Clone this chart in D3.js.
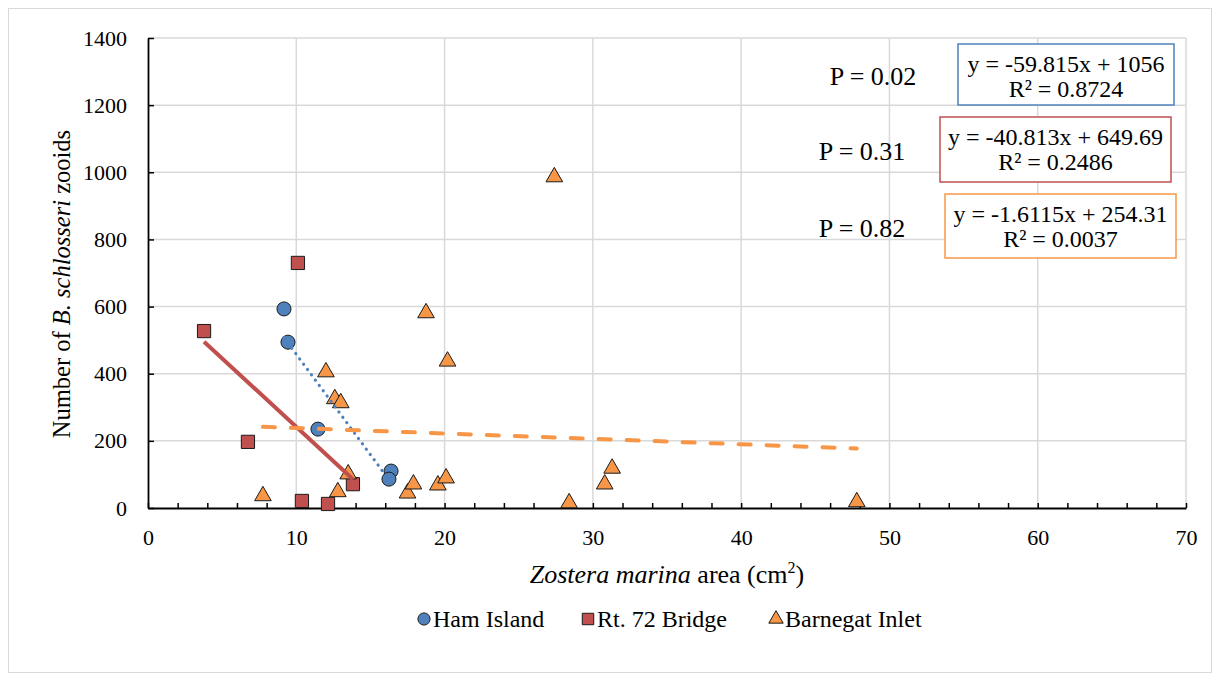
<!DOCTYPE html>
<html>
<head>
<meta charset="utf-8">
<script src="https://cdn.jsdelivr.net/npm/d3@7"></script>
<style>
  body { margin: 0; background: #fff; }
  svg, svg text { font-family: "Liberation Serif", "Times New Roman", serif; }
</style>
</head>
<body>
<svg id="chart" width="1220" height="675"></svg>
<script>
// series values
const hamX = [9.17, 9.44, 11.46, 16.39, 16.25];
const hamY = [593, 494, 235, 110, 86];

const bridgeX = [3.78, 10.11, 6.74, 10.38, 12.14, 13.82];
const bridgeY = [527, 730, 197, 21, 12, 71];

const inletX = [7.75, 12.0, 12.6, 13.0, 13.5, 12.8, 18.75, 20.2, 17.5, 17.9, 19.55, 20.1, 28.4, 30.8, 31.3, 27.4, 47.8];
const inletY = [36, 405, 325, 313, 101, 48, 581, 437, 44, 71, 68, 89, 15, 71, 118, 986, 18];

const seriesNames = ["Ham Island", "Rt. 72 Bridge", "Barnegat Inlet"];
const fitSlope = [-59.815, -40.813, -1.6115];
const fitIntercept = [1056, 649.69, 254.31];
const fitEquation = ["y = -59.815x + 1056", "y = -40.813x + 649.69", "y = -1.6115x + 254.31"];
const fitR2 = ["R² = 0.8724", "R² = 0.2486", "R² = 0.0037"];
const pValues = ["P = 0.02", "P = 0.31", "P = 0.82"];

const xTicks = d3.range(0, 71, 10);
const xMinorTicks = d3.range(0, 71, 2);
const yTicks = d3.range(0, 1401, 200);

const colors = ["#4F81BD", "#C0504D", "#F79646"];
const symbols = [d3.symbolCircle, d3.symbolSquare, d3.symbolTriangle];
const symbolSizes = [155, 175, 120];

const svg = d3.select("#chart");

// outer chart border
svg.append("rect")
    .attr("x", 8.5).attr("y", 8.5)
    .attr("width", 1203).attr("height", 664)
    .attr("fill", "none")
    .attr("stroke", "#d9d9d9")
    .attr("stroke-width", 1);

const x = d3.scaleLinear().domain([0, 70]).range([148, 1186]);
const y = d3.scaleLinear().domain([0, 1400]).range([508, 38]);

// gridlines
svg.append("g").selectAll("line")
    .data(xTicks.filter(d => d > 0))
    .join("line")
    .attr("x1", d => x(d)).attr("x2", d => x(d))
    .attr("y1", y(0)).attr("y2", y(1400))
    .attr("stroke", "#d9d9d9").attr("stroke-width", 1.5);

svg.append("g").selectAll("line")
    .data(yTicks.filter(d => d > 0))
    .join("line")
    .attr("x1", x(0)).attr("x2", x(70))
    .attr("y1", d => y(d)).attr("y2", d => y(d))
    .attr("stroke", "#d9d9d9").attr("stroke-width", 1.5);

// axes
const xAxis = d3.axisBottom(x)
    .tickValues(xMinorTicks)
    .tickFormat(d => d % 10 === 0 ? d : "")
    .tickSizeInner(-5)
    .tickSizeOuter(0)
    .tickPadding(21);

const yAxis = d3.axisLeft(y)
    .tickValues(yTicks)
    .tickFormat(d3.format("d"))
    .tickSizeInner(-6)
    .tickSizeOuter(0)
    .tickPadding(21);

const ax = svg.append("g")
    .attr("transform", `translate(0,${y(0)})`)
    .call(xAxis);

const ay = svg.append("g")
    .attr("transform", `translate(${x(0)},0)`)
    .call(yAxis);

[ax, ay].forEach(function(g){
    g.attr("font-family", null).attr("font-size", null);
    g.selectAll(".domain").attr("stroke", "#000").attr("stroke-width", 1.8);
    g.selectAll(".tick line").attr("stroke", "#000").attr("stroke-width", 1.5);
    g.selectAll(".tick text")
        .attr("font-size", 22)
        .attr("fill", "#000");
});

// axis titles
const xt = svg.append("text")
    .attr("x", 667).attr("y", 583)
    .attr("text-anchor", "middle")
    .attr("font-size", 26);
xt.append("tspan").attr("font-style", "italic").text("Zostera marina");
xt.append("tspan").text(" area (cm");
xt.append("tspan").attr("font-size", 16).attr("dy", -10).text("2");
xt.append("tspan").attr("dy", 10).text(")");

const yt = svg.append("text")
    .attr("transform", `translate(70,284) rotate(-90)`)
    .attr("text-anchor", "middle")
    .attr("font-size", 24.5);
yt.append("tspan").text("Number of ");
yt.append("tspan").attr("font-style", "italic").text("B. schlosseri");
yt.append("tspan").text(" zooids");

// points
const allSeries = [
    d3.zip(hamX, hamY),
    d3.zip(bridgeX, bridgeY),
    d3.zip(inletX, inletY)
];

const lineGen = d3.line().x(d => x(d[0])).y(d => y(d[1]));

allSeries.forEach(function(pts, i){
    svg.append("g").selectAll("path")
        .data(pts)
        .join("path")
        .attr("d", d3.symbol().type(symbols[i]).size(symbolSizes[i]))
        .attr("transform", d => `translate(${x(d[0])},${y(d[1])})`)
        .attr("fill", colors[i])
        .attr("stroke", "#1a1a1a")
        .attr("stroke-width", 1);
});

// trendlines
allSeries.forEach(function(pts, i){
    const ext = d3.extent(pts, d => d[0]);
    const seg = ext.map(v => [v, fitSlope[i] * v + fitIntercept[i]]);
    const p = svg.append("path")
        .attr("d", lineGen(seg))
        .attr("fill", "none")
        .attr("stroke", colors[i]);
    if (i === 0){
        p.attr("stroke-width", 3.2).attr("stroke-linecap", "round").attr("stroke-dasharray", "0.1 6.5");
    } else if (i === 1){
        p.attr("stroke-width", 4);
    } else {
        p.attr("stroke-width", 4).attr("stroke-linecap", "round").attr("stroke-dasharray", "12 16");
    }
});

// equation boxes and P values
const boxes = [
    {x: 958, y: 44, w: 216, h: 61},
    {x: 940, y: 117, w: 231, h: 65},
    {x: 945, y: 194, w: 231, h: 64}
];
const pPos = [[873, 85], [862, 160], [862, 237]];

boxes.forEach(function(b, i){
    svg.append("rect")
        .attr("x", b.x).attr("y", b.y)
        .attr("width", b.w).attr("height", b.h)
        .attr("fill", "#fff")
        .attr("stroke", colors[i])
        .attr("stroke-width", 1.5);
    svg.append("text")
        .attr("x", b.x + b.w / 2).attr("y", b.y + 28)
        .attr("text-anchor", "middle")
        .attr("font-size", 24)
        .text(fitEquation[i]);
    svg.append("text")
        .attr("x", b.x + b.w / 2).attr("y", b.y + 53)
        .attr("text-anchor", "middle")
        .attr("font-size", 24)
        .text(fitR2[i]);
    svg.append("text")
        .attr("x", pPos[i][0]).attr("y", pPos[i][1])
        .attr("text-anchor", "middle")
        .attr("font-size", 26)
        .text(pValues[i]);
});

// legend
const legendX = [424, 588, 776];
const leg = svg.append("g");
seriesNames.forEach(function(name, i){
    leg.append("path")
        .attr("d", d3.symbol().type(symbols[i]).size(symbolSizes[i] * 0.75))
        .attr("transform", `translate(${legendX[i]},619)`)
        .attr("fill", colors[i])
        .attr("stroke", "#1a1a1a")
        .attr("stroke-width", 1);
    leg.append("text")
        .attr("x", legendX[i] + 9).attr("y", 627)
        .attr("font-size", 24)
        .text(name);
});
</script>
</body>
</html>
